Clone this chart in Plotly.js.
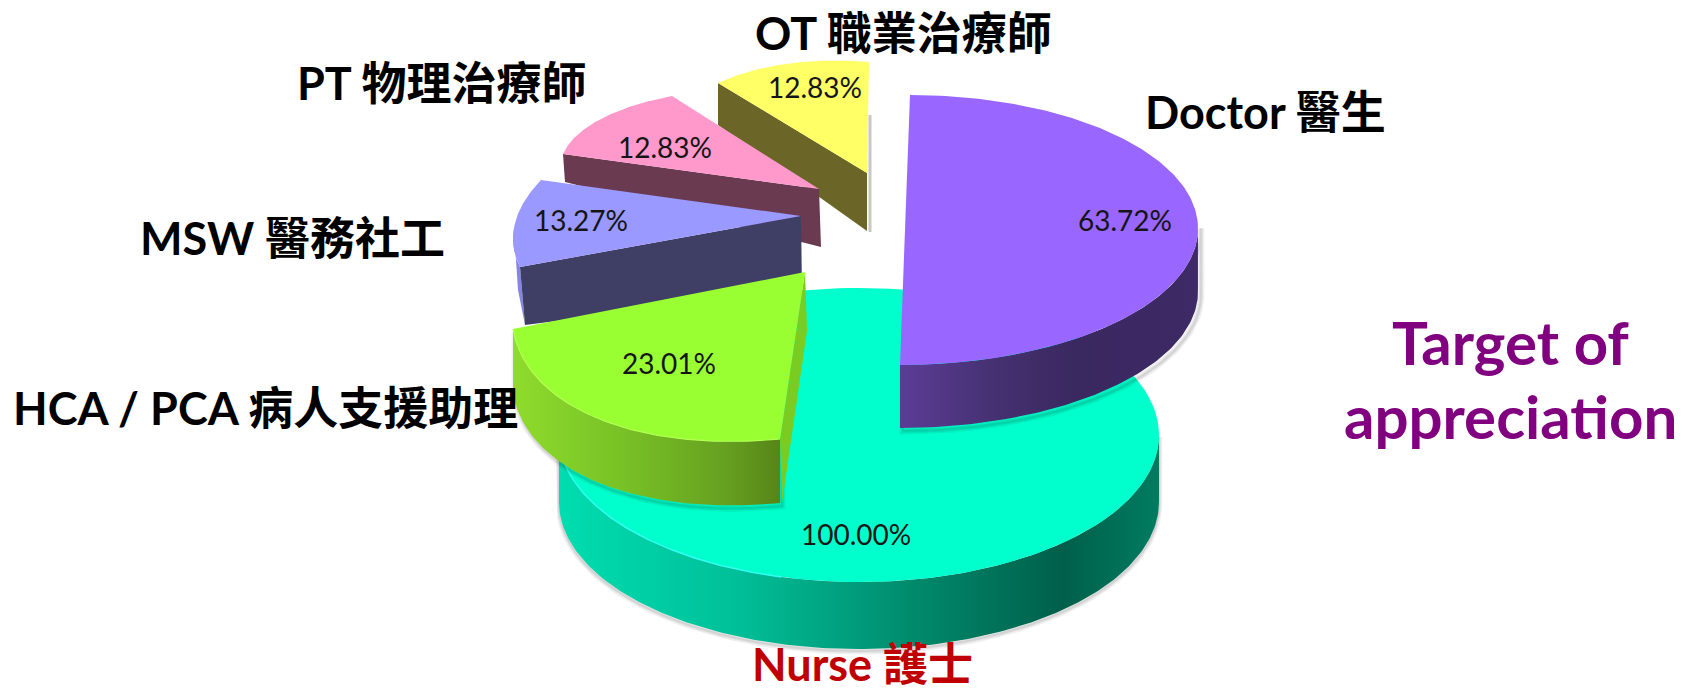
<!DOCTYPE html>
<html><head><meta charset="utf-8">
<script src="https://cdn.plot.ly/plotly-3.0.1.min.js"></script>
<style>html,body{margin:0;padding:0;background:#fff}#c{width:1686px;height:693px}</style>
</head><body><div id="c"></div>
<script>
// ---- data ----
const categories = ['Nurse 護士','Doctor 醫生','HCA / PCA 病人支援助理','MSW 醫務社工','PT 物理治療師','OT 職業治療師'];
const percentValues = [100.00, 63.72, 23.01, 13.27, 12.83, 12.83];

// ---- drawing helpers (pixel-like data space) ----
const N = 90, RAD = Math.PI/180;
const ptsOf = a => ({x:a.map(p=>p[0]), y:a.map(p=>p[1])});
function sweepOf(i){ return percentValues[i]*3.6*RAD; }
// circular sector under an affine view: u,v = apex->arc ends; bulge flattens the arc toward its chord
function arc(apex,u,v,sw,f0=0,f1=1,bulge=1){
  const out=[];
  for(let k=0;k<=N;k++){
    const w=f0+(f1-f0)*k/N, t=sw*w, s=Math.sin(sw);
    const a=Math.sin(sw-t)/s, b=Math.sin(t)/s;
    const ca=1-w, cb=w;
    const A=ca+(a-ca)*bulge, B=cb+(b-cb)*bulge;
    out.push([apex[0]+A*u[0]+B*v[0], apex[1]+A*u[1]+B*v[1]]);
  }
  return out;
}
function ell(c,rx,ry,a0,a1){
  const out=[];
  for(let k=0;k<=2*N;k++){const a=(a0+(a1-a0)*k/(2*N))*RAD; out.push([c[0]+rx*Math.sin(a), c[1]-ry*Math.cos(a)]);}
  return out;
}
const drop=(a,d)=>a.map(p=>[p[0],p[1]+d]);
const traces=[];
function poly(a,color,grad,lineColor){
  const p=ptsOf(a.concat([a[0]]));
  const t={type:'scatter',mode:'lines',x:p.x,y:p.y,fill:'toself',hoverinfo:'skip',showlegend:false,
           line:{width:lineColor?1:0,color:lineColor||color,shape:'linear'},fillcolor:color};
  if(grad){t.fillgradient={type:'horizontal',colorscale:grad}; delete t.fillcolor;}
  traces.push(t);
}
function shadow(a,dx,dy){
  const p=ptsOf(a.concat([a[0]]).map(q=>[q[0]+dx,q[1]+dy]));
  [7,4,2].forEach(w=>traces.push({type:'scatter',mode:'lines',x:p.x,y:p.y,hoverinfo:'skip',showlegend:false,
    line:{width:w,color:'rgba(0,0,0,0.06)'}}));
}

// Nurse (full disc, base layer)
(function(){
  const c=[859,435],rx=300,ry=147,h=67;
  const front=ell(c,rx,ry,90,270);
  const wall=front.concat(drop(front,h).reverse());
  shadow(wall,0,2);
  poly(wall,'#00C09A',[[0,'#00DDB0'],[0.3,'#00BF98'],[0.62,'#008568'],[0.84,'#005F4A'],[1,'#007C60']]);
  poly(ell(c,rx,ry,0,360),'#00FFCC');
  const rim=ptsOf(ell(c,rx,ry,195,262));
  traces.push({type:'scatter',mode:'lines',x:rim.x,y:rim.y,hoverinfo:'skip',showlegend:false,line:{width:1.5,color:'#33FFF0'}});
})();

// OT
(function(){
  const i=5,apex=[867,173],u=[-149,-90],v=[2,-111];
  const L=[apex[0]+u[0],apex[1]+u[1]];
  const wall=[L,apex,[867,231],[L[0],L[1]+42]];
  const edge=ptsOf([[870,115],[870,232]]);
  traces.push({type:'scatter',mode:'lines',x:edge.x,y:edge.y,hoverinfo:'skip',showlegend:false,line:{width:3,color:'rgba(0,0,0,0.22)'}});
  poly(wall,'#6B6628');
  poly([apex].concat(arc(apex,u,v,sweepOf(i))),'#FFFF66');
})();

// PT
(function(){
  const i=4,apex=[819,189],u=[-256,-35],v=[-147,-93];
  const L=[apex[0]+u[0],apex[1]+u[1]];
  poly([L,apex,[821,247],[L[0]+2,L[1]+28]],'#6A3B50');
  poly([apex].concat(arc(apex,u,v,sweepOf(i))),'#FF99CC');
})();

// MSW
(function(){
  const i=3,apex=[801,216],u=[-260,-36],v=[-281,51];
  const E=[apex[0]+v[0],apex[1]+v[1]];
  const a=arc(apex,u,v,sweepOf(i),0,1,0.62);
  const sl=arc(apex,u,v,sweepOf(i),0.55,1,0.62);
  poly(sl.concat([[525,325],[518,290]]),'#8585E6');
  poly([E,apex,[802,290],[525,325]],'#3F3F66');
  poly([apex].concat(a),'#9999FF');
})();

// HCA
(function(){
  const i=2,apex=[805,272],u=[-292,57],v=[-25,167],h=64;
  const a=arc(apex,u,v,sweepOf(i),0,1,0.92);
  const wall=a.concat(drop(a,h).reverse());
  shadow(wall,2,3);
  poly(wall,'#76BC24',[[0,'#8FDC2C'],[0.4,'#78C226'],[0.8,'#66A020'],[1,'#578518']]);
  poly([apex,[apex[0]+v[0],apex[1]+v[1]],[apex[0]+v[0]+2,apex[1]+v[1]+h],[807,331]],'#7ACC22');
  poly([apex].concat(a),'#99FF33');
  const rim=ptsOf(a);
  traces.push({type:'scatter',mode:'lines',x:rim.x,y:rim.y,hoverinfo:'skip',showlegend:false,line:{width:1.2,color:'#B4FF50'}});
})();

// Doctor (drawn as half disc, as in the picture)
(function(){
  const cTop=[910,95],cBot=[900,365],rx=293,ry=135,cy=230,h=63;
  const back=ptsOf([[910,148],[912,225]]);
  traces.push({type:'scatter',mode:'lines',x:back.x,y:back.y,hoverinfo:'skip',showlegend:false,line:{width:2,color:'#555566'}});
  const a=[];
  for(let k=0;k<=2*N;k++){const t=Math.PI*k/(2*N), w=k/(2*N);
    a.push([cTop[0]+(cBot[0]-cTop[0])*w+rx*Math.sin(t), cy-ry*Math.cos(t)]);}
  const lower=a.slice(Math.floor(N*0.98));
  const wall=lower.concat(drop(lower,h).reverse());
  shadow(wall,3,3);
  poly(wall,'#3D2A66',[[0,'#5C3C96'],[0.35,'#43306E'],[0.6,'#3A2860'],[1,'#3D2A66']]);
  poly(a,'#9966FF');
})();

// ---- text ----
const LAT="Lato, 'Noto Sans CJK TC', sans-serif";
const catFont={family:LAT,size:45,color:'#000000'};
const labelPos=[[862,664],[1265,112],[265,408],[292,238],[441,83],[903,33]];
const pctPos=[[856,534],[1125,220],[669,363],[581,220],[665,147],[815,87]];
const anns=[];
categories.forEach((c,i)=>{
  anns.push({x:labelPos[i][0],y:labelPos[i][1],xref:'x',yref:'y',text:'<b>'+c+'</b>',showarrow:false,
    font:i===0?{family:LAT,size:45,color:'#C00000'}:catFont,xanchor:'center',yanchor:'middle'});
  anns.push({x:pctPos[i][0],y:pctPos[i][1],xref:'x',yref:'y',text:percentValues[i].toFixed(2)+'%',showarrow:false,
    font:{family:LAT,size:28,color:'#151515'},xanchor:'center',yanchor:'middle'});
});
anns.push({x:1510,y:342,xref:'x',yref:'y',text:'<b>Target of</b>',showarrow:false,font:{family:LAT,size:60,color:'#800080'},xanchor:'center',yanchor:'middle'});
anns.push({x:1510,y:416,xref:'x',yref:'y',text:'<b>appreciation</b>',showarrow:false,font:{family:LAT,size:60,color:'#800080'},xanchor:'center',yanchor:'middle'});

const hidden=r=>({range:r,visible:false,fixedrange:true,showgrid:false,zeroline:false});
Plotly.newPlot('c',traces,{
  width:1686,height:693,margin:{l:0,r:0,t:0,b:0},paper_bgcolor:'#fff',plot_bgcolor:'#fff',
  xaxis:hidden([0,1686]),yaxis:hidden([693,0]),annotations:anns,showlegend:false
},{displayModeBar:false,staticPlot:true});
</script></body></html>
